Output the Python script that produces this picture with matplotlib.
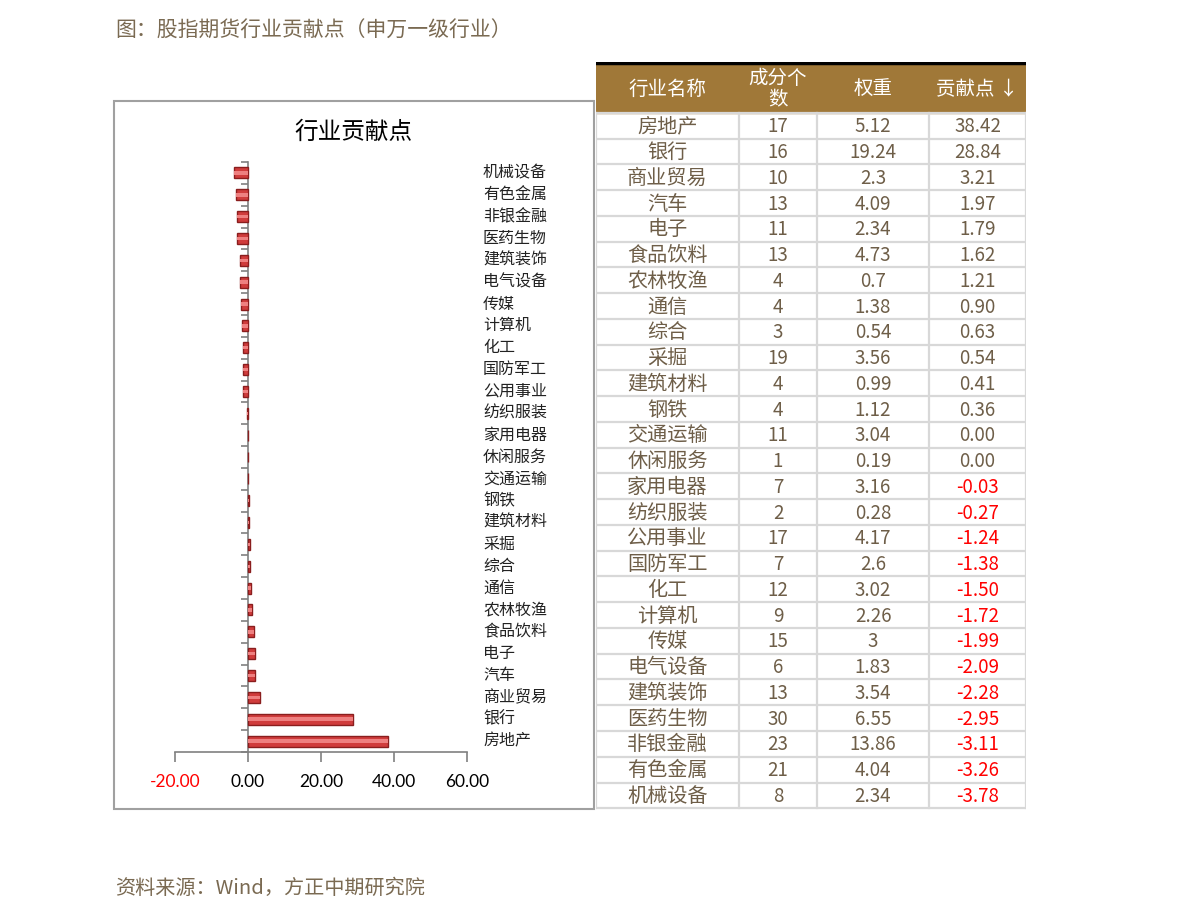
import matplotlib.pyplot as plt
import matplotlib.transforms as mtransforms
from matplotlib.patches import Rectangle

plt.rcParams['font.family'] = ['Noto Sans CJK SC', 'DejaVu Sans']

# data (sorted by contribution, descending)
industries = ["房地产", "银行", "商业贸易", "汽车", "电子", "食品饮料", "农林牧渔", "通信",
              "综合", "采掘", "建筑材料", "钢铁", "交通运输", "休闲服务", "家用电器", "纺织服装",
              "公用事业", "国防军工", "化工", "计算机", "传媒", "电气设备", "建筑装饰", "医药生物",
              "非银金融", "有色金属", "机械设备"]
counts = ["17", "16", "10", "13", "11", "13", "4", "4", "3", "19", "4", "4", "11", "1",
          "7", "2", "17", "7", "12", "9", "15", "6", "13", "30", "23", "21", "8"]
weights = ["5.12", "19.24", "2.3", "4.09", "2.34", "4.73", "0.7", "1.38", "0.54", "3.56",
           "0.99", "1.12", "3.04", "0.19", "3.16", "0.28", "4.17", "2.6", "3.02", "2.26",
           "3", "1.83", "3.54", "6.55", "13.86", "4.04", "2.34"]
points = [38.42, 28.84, 3.21, 1.97, 1.79, 1.62, 1.21, 0.90, 0.63, 0.54, 0.41, 0.36, 0.00,
          0.00, -0.03, -0.27, -1.24, -1.38, -1.50, -1.72, -1.99, -2.09, -2.28, -2.95,
          -3.11, -3.26, -3.78]
xticks = [-20, 0, 20, 40, 60]

brown = '#7a6a52'
fig = plt.figure(figsize=(11.91, 9.21), dpi=100)

fig.text(115 / 1191, 1 - 31 / 921, "图：股指期货行业贡献点（申万一级行业）", fontsize=15,
         color=brown, va='center', ha='left', fontweight='medium')
fig.text(115 / 1191, 1 - 888 / 921, "资料来源：Wind，方正中期研究院", fontsize=14.5,
         color=brown, va='center', ha='left', style='italic')

# chart frame
fig.patches.append(Rectangle((114 / 1191, 1 - 809 / 921), 480 / 1191, 708 / 921,
                             transform=fig.transFigure, fill=False, edgecolor='#a0a0a0', lw=1.5))
fig.text(353 / 1191, 1 - 132 / 921, "行业贡献点", fontsize=17, ha='center', va='center', color='black')

n = len(industries)
ax = fig.add_axes([175 / 1191, 1 - 752 / 921, 292 / 1191, 590 / 921])
ypos = list(range(n))
ax.barh(ypos, points, height=0.5, color='#d03c3c', edgecolor='#8a1e1e', linewidth=1.0, zorder=3)
ax.barh(ypos, points, height=0.16, color='#ee8080', linewidth=0, zorder=4)
ax.set_xlim(-20, 60)
ax.set_ylim(-0.5, n - 0.5)
for s in ['top', 'right']:
    ax.spines[s].set_visible(False)
ax.spines['left'].set_position(('data', 0))
ax.spines['left'].set_color('#808080')
ax.spines['bottom'].set_color('#808080')
ax.spines['left'].set_linewidth(1.2)
ax.spines['bottom'].set_linewidth(1.2)
ax.set_yticks([i - 0.5 for i in range(n + 1)])
ax.set_yticklabels([])
ax.tick_params(axis='y', length=5, color='#808080', direction='out', width=1.2)
ax.set_xticks(xticks)
ax.set_xticklabels([f"{v:.2f}" for v in xticks], fontsize=12.5, family=['Lato', 'DejaVu Sans'])
ax.tick_params(axis='x', length=7, color='#808080', width=1.2, pad=9)
for lab, v in zip(ax.get_xticklabels(), xticks):
    lab.set_color('red' if v < 0 else 'black')
trans = mtransforms.blended_transform_factory(fig.transFigure, ax.transData)
for i, name in enumerate(industries):
    ax.text(483 / 1191, i, name, transform=trans, fontsize=11.5, va='center', ha='left', color='#222222')

# table
tx = fig.add_axes([596 / 1191, 1 - 810 / 921, 430 / 1191, 748 / 921])
tx.set_xlim(596, 1026)
tx.set_ylim(810, 62)
tx.axis('off')
cols = [596, 739, 817, 929, 1026]
header_top, header_bot = 64, 113
row_h = 25.75
tx.add_patch(Rectangle((596, header_top), 430, header_bot - header_top, color='#a07838', zorder=1))
tx.plot([596, 1026], [63.5, 63.5], color='black', lw=2.5, zorder=3)
headers = ["行业名称", "成分个\n数", "权重", "贡献点 ↓"]
for j, h in enumerate(headers):
    tx.text((cols[j] + cols[j + 1]) / 2, (header_top + header_bot) / 2 + 1, h, color='white',
            fontsize=14, ha='center', va='center', linespacing=1.0)
table_bottom = header_bot + row_h * n
for r in range(n + 1):
    y = header_bot + r * row_h
    tx.plot([596, 1026], [y, y], color='#d8d8d8', lw=1.6, zorder=2)
for c in cols:
    tx.plot([c, c], [header_bot, table_bottom], color='#d8d8d8', lw=1.6, zorder=2)
for r in range(n):
    yc = header_bot + (r + 0.5) * row_h + 1
    vals = [industries[r], counts[r], weights[r], f"{points[r]:.2f}"]
    for j, v in enumerate(vals):
        color = '#ff0000' if (j == 3 and points[r] < 0) else '#6e5e48'
        size = 14.5 if j == 0 else 13.5
        tx.text((cols[j] + cols[j + 1]) / 2, yc, v, color=color, fontsize=size,
                ha='center', va='center')

fig.savefig('out.png', dpi=100)
